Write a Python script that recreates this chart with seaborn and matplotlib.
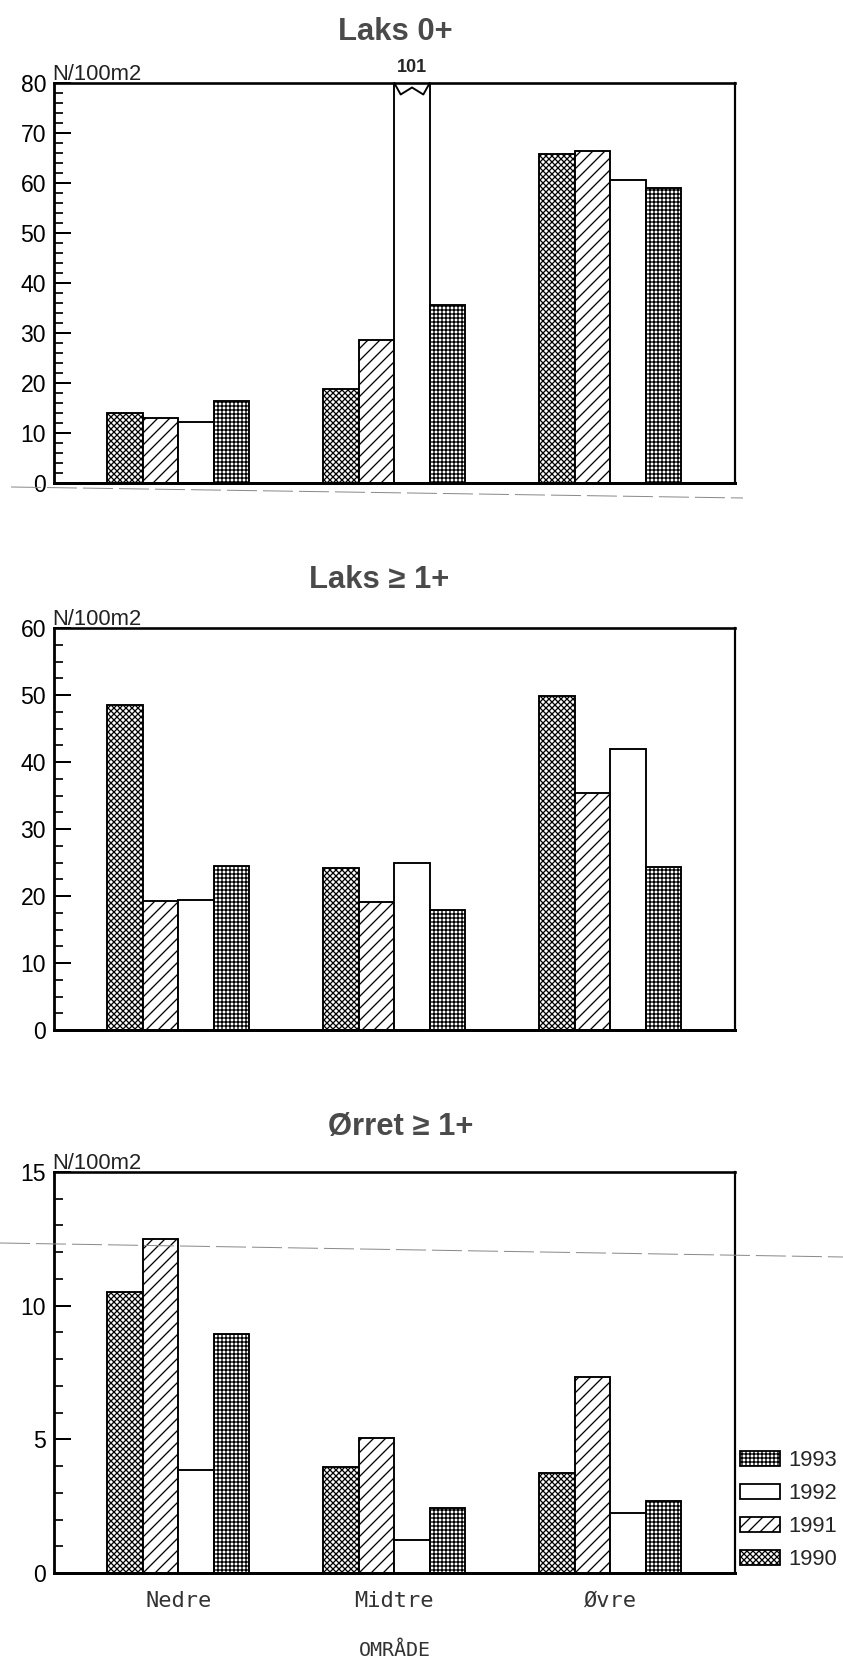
import numpy as np
import pandas as pd
import matplotlib
matplotlib.use("Agg")
import matplotlib.pyplot as plt
import seaborn as sns
from matplotlib.patches import Patch
from matplotlib.lines import Line2D
from matplotlib.ticker import MultipleLocator
import matplotlib.transforms as mtransforms

# ---------------- data ----------------
areas = ["Nedre", "Midtre", "Øvre"]
years = ["1990", "1991", "1992", "1993"]
legend_years = ["1993", "1992", "1991", "1990"]

laks0_1990 = [14.0, 18.8, 65.9]
laks0_1991 = [13.0, 28.7, 66.4]
laks0_1992 = [12.2, 101.0, 60.7]
laks0_1993 = [16.5, 35.7, 59.0]

laks1_1990 = [48.5, 24.2, 49.9]
laks1_1991 = [19.3, 19.1, 35.3]
laks1_1992 = [19.4, 24.9, 41.9]
laks1_1993 = [24.5, 17.9, 24.3]

orret1_1990 = [10.5, 3.95, 3.75]
orret1_1991 = [12.5, 5.05, 7.35]
orret1_1992 = [3.85, 1.25, 2.25]
orret1_1993 = [8.95, 2.45, 2.7]

titles = ["Laks 0+", "Laks ≥ 1+", "Ørret ≥ 1+"]
ylims = [80, 60, 15]
major_steps = [10, 10, 5]
minor_steps = [2, 2.5, 1]
broken_label = "101"
xlabel_text = "OMRÅDE"
unit_text = "N/100m2"

panels = [
    [laks0_1990, laks0_1991, laks0_1992, laks0_1993],
    [laks1_1990, laks1_1991, laks1_1992, laks1_1993],
    [orret1_1990, orret1_1991, orret1_1992, orret1_1993],
]

hatches = {"1990": "xxxx", "1991": "//", "1992": "", "1993": "+++"}

# ---------------- style ----------------
sns.set_style("white")
DPI = 72
W, H = 843, 1658
plt.rcParams["font.family"] = ["Liberation Sans", "DejaVu Sans"]
plt.rcParams["hatch.color"] = "black"
plt.rcParams["hatch.linewidth"] = 1.3

fig = plt.figure(figsize=(W / DPI, H / DPI), dpi=DPI, facecolor="white")

left_px, right_px = 54, 735
panel_px = [(83, 483), (628, 1030), (1172, 1573)]
title_x_px = [395, 379, 401]
title_baseline_above_px = [43.5, 40.5, 37]

for k, (top, bot) in enumerate(panel_px):
    ax = fig.add_axes([left_px / W, 1 - bot / H, (right_px - left_px) / W, (bot - top) / H])
    vals = panels[k]
    rows = []
    for yi, yr in enumerate(years):
        for ai, area in enumerate(areas):
            rows.append({"omrade": area, "year": yr, "value": vals[yi][ai]})
    df = pd.DataFrame(rows)
    sns.barplot(data=df, x="omrade", y="value", hue="year", order=areas,
                hue_order=years, palette={y: "white" for y in years},
                edgecolor="black", linewidth=1.9, width=0.656, gap=0,
                errorbar=None, legend=False, saturation=1, ax=ax)
    for yi, cont in enumerate(ax.containers):
        for bar in cont:
            bar.set_hatch(hatches[years[yi]])
            bar.set_facecolor("white")
            bar.set_edgecolor("black")

    ax.set_xlim(-0.575, 2.577)
    ax.set_ylim(0, ylims[k])
    ax.set_yticks(np.arange(0, ylims[k] + 0.01, major_steps[k]))
    ax.yaxis.set_minor_locator(MultipleLocator(minor_steps[k]))
    ax.tick_params(axis="y", which="major", direction="in", length=17, width=2,
                   labelsize=23, pad=8, left=True, right=False, colors="black")
    ax.tick_params(axis="y", which="minor", direction="in", length=9, width=2,
                   left=True, right=False)
    ax.tick_params(axis="x", length=0)
    ax.set_xlabel("")
    ax.set_ylabel("")
    for sname, lw in [("left", 2.8), ("bottom", 3), ("top", 2.6), ("right", 2.2)]:
        ax.spines[sname].set_visible(True)
        ax.spines[sname].set_color("black")
        ax.spines[sname].set_linewidth(lw)

    if k == 2:
        ax.set_xticks(range(len(areas)))
        ax.set_xticklabels(areas, fontfamily="DejaVu Sans Mono", fontsize=22,
                           color="#333333")
        ax.tick_params(axis="x", pad=18)
    else:
        ax.set_xticklabels([])

    hpx = bot - top
    tx = (title_x_px[k] - left_px) / (right_px - left_px)
    ax.text(tx, 1 + title_baseline_above_px[k] / hpx, titles[k], transform=ax.transAxes,
            ha="center", va="baseline", fontsize=31, fontweight="bold", color="#4a4a4a")
    ax.text(-0.003, 1 + 3 / hpx, unit_text, transform=ax.transAxes,
            ha="left", va="baseline", fontsize=22, color="#222222")

    if k == 0:
        # broken bar (value beyond axis) for 1992 Midtre
        cont = ax.containers[years.index("1992")]
        for bar in cont:
            cx = bar.get_x() + bar.get_width() / 2
            if round(cx) == areas.index("Midtre"):
                x0, w = bar.get_x(), bar.get_width()
                ymax = ylims[k]
                ax.plot([x0, x0 + 0.18 * w, x0 + 0.5 * w, x0 + 0.82 * w, x0 + w],
                        [ymax, ymax - 2.3, ymax - 0.9, ymax - 2.3, ymax],
                        color="black", lw=1.9, clip_on=False, zorder=5)
                trans = mtransforms.blended_transform_factory(ax.transData, ax.transAxes)
                ax.text(cx, 1 + 11 / hpx, broken_label, transform=trans,
                        ha="center", va="baseline", fontsize=18, fontweight="bold")

# x-axis title
fig.text(395 / W, 1 - 1650 / H, xlabel_text, ha="center", va="center",
         fontfamily="DejaVu Sans Mono", fontsize=20, color="#333333")

# legend
handles = [Patch(facecolor="white", edgecolor="black", hatch=hatches[y], lw=1.8, label=y)
           for y in legend_years]
fig.legend(handles=handles, loc="center left", bbox_to_anchor=(740 / W, 1 - 1510 / H),
           frameon=False, fontsize=22, handlelength=40 / 22, handleheight=15 / 22,
           handletextpad=8 / 22, labelspacing=0.54, borderpad=0, borderaxespad=0)

# faint scan lines present in the reference
for (x0, y0, x1, y1) in [(11, 487, 743, 498), (0, 1243, 843, 1257)]:
    fig.add_artist(Line2D([x0 / W, x1 / W], [1 - y0 / H, 1 - y1 / H],
                          transform=fig.transFigure, color="#8a8a8a", lw=1,
                          dashes=(30, 6)))

fig.savefig("out.png", dpi=DPI, facecolor="white")
